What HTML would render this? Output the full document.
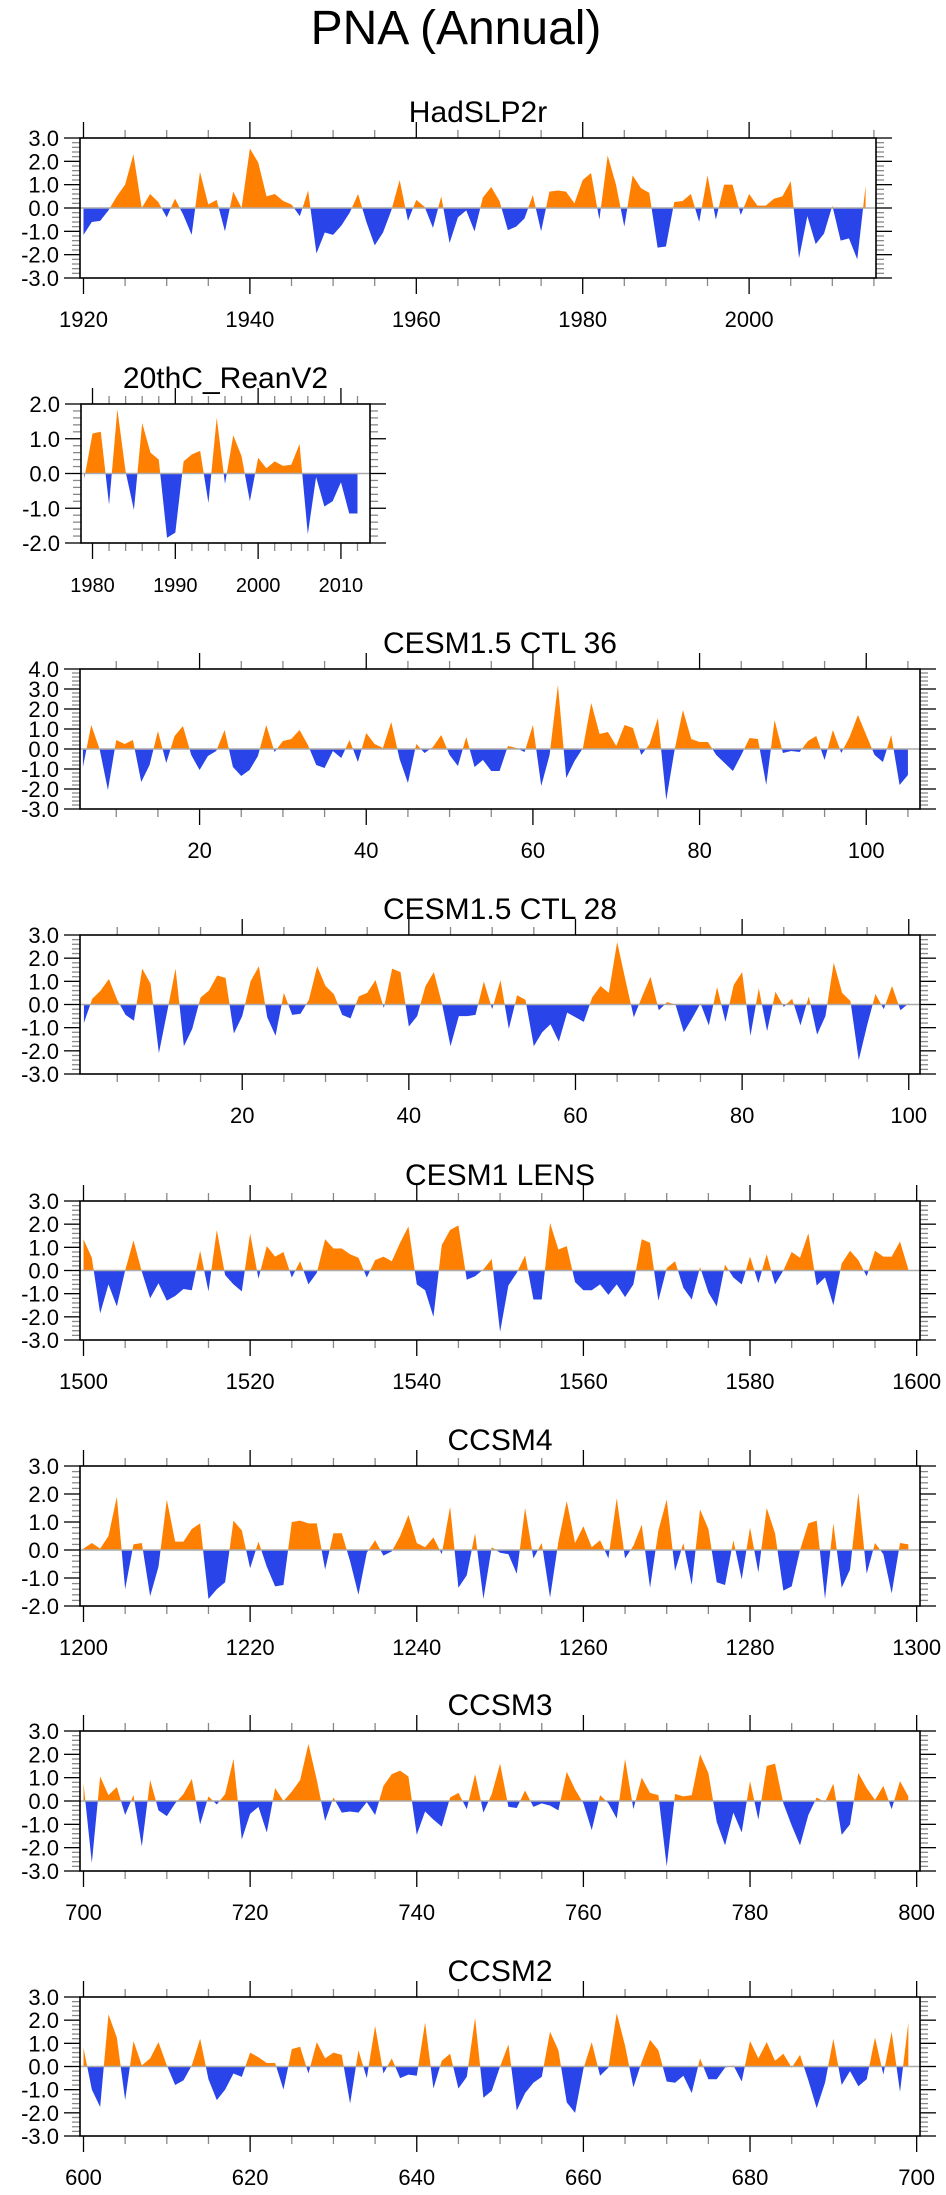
<!DOCTYPE html>
<html><head><meta charset="utf-8">
<style>
html,body{margin:0;padding:0;background:#fff;}
svg{display:block;font-family:"Liberation Sans",Arial,sans-serif;}
</style></head>
<body>
<svg id="fig" width="946" height="2195" viewBox="0 0 946 2195" xmlns="http://www.w3.org/2000/svg">
<text x="456" y="44" font-size="48" text-anchor="middle">PNA (Annual)</text>
</svg>
<script>
// ---- data ----
const hadYears0 = 1920;
const hadValues = [-1.15,-0.6,-0.55,-0.1,0.5,1.0,2.3,0.0,0.6,0.25,-0.4,0.4,-0.3,-1.15,1.55,0.15,0.35,-1.0,0.7,0.0,
2.55,1.95,0.5,0.6,0.3,0.15,-0.35,0.75,-1.95,-1.05,-1.15,-0.75,-0.2,0.6,-0.6,-1.6,-1.05,-0.1,1.2,-0.55,
0.35,0.05,-0.85,0.5,-1.5,-0.4,-0.1,-1.0,0.45,0.9,0.3,-0.95,-0.8,-0.45,0.55,-1.0,0.7,0.75,0.7,0.2,
1.2,1.5,-0.5,2.25,1.0,-0.8,1.4,0.85,0.65,-1.7,-1.65,0.25,0.3,0.6,-0.6,1.4,-0.5,1.0,1.0,-0.3,
0.6,0.1,0.1,0.4,0.5,1.15,-2.15,-0.35,-1.55,-1.1,0.1,-1.4,-1.3,-2.2,0.95];
const reanYears0 = 1979;
const reanValues = [-0.15,1.15,1.2,-0.9,1.85,0.05,-1.05,1.45,0.6,0.4,-1.85,-1.7,0.35,0.55,0.65,-0.85,1.6,-0.3,1.1,0.5,
-0.8,0.45,0.15,0.35,0.22,0.25,0.85,-1.75,-0.1,-0.95,-0.8,-0.25,-1.15,-1.15];
const ctl36Start = 6;
const ctl36Values = [-0.9,1.2,0.0,-2.05,0.45,0.25,0.45,-1.65,-0.8,0.9,-0.7,0.65,1.15,-0.3,-1.05,-0.35,-0.1,0.95,-0.9,-1.35,
-1.05,-0.35,1.2,-0.15,0.4,0.5,0.95,0.2,-0.8,-0.95,-0.1,-0.45,0.45,-0.65,0.8,0.25,0.05,1.35,-0.5,-1.7,
0.25,-0.2,0.1,0.7,-0.3,-0.85,0.6,-0.9,-0.55,-1.1,-1.1,0.15,0.05,-0.15,1.2,-1.85,-0.3,3.2,-1.45,-0.6,
0.05,2.3,0.75,0.85,0.15,1.2,1.05,-0.3,0.25,1.55,-2.55,-0.05,1.95,0.5,0.35,0.35,-0.3,-0.7,-1.1,-0.3,
0.55,0.5,-1.8,1.45,-0.2,-0.1,-0.15,0.4,0.65,-0.55,0.95,-0.2,0.6,1.7,0.7,-0.3,-0.65,0.7,-1.8,-1.3];
const ctl28Start = 1;
const ctl28Values = [-0.8,0.25,0.6,1.1,0.2,-0.45,-0.7,1.55,0.9,-2.1,-0.3,1.55,-1.8,-1.05,0.3,0.6,1.25,1.15,-1.25,-0.5,
1.0,1.65,-0.55,-1.35,0.5,-0.45,-0.4,0.2,1.65,0.8,0.45,-0.45,-0.6,0.35,0.5,1.05,-0.15,1.55,1.4,-0.95,
-0.5,0.8,1.4,0.0,-1.8,-0.5,-0.5,-0.45,1.0,-0.2,1.05,-1.05,0.4,0.2,-1.8,-1.2,-0.85,-1.6,-0.35,-0.55,
-0.75,0.3,0.8,0.5,2.7,1.05,-0.55,0.35,1.2,-0.25,0.1,0.0,-1.2,-0.6,0.05,-0.9,0.75,-0.75,0.85,1.4,
-1.35,0.7,-1.15,0.55,-0.1,0.25,-0.9,0.35,-1.3,-0.5,1.8,0.5,0.15,-2.4,-0.9,0.45,-0.2,0.8,-0.25,0.05];
const lensStart = 1500;
const lensValues = [1.35,0.55,-1.85,-0.6,-1.55,0.0,1.3,-0.05,-1.2,-0.55,-1.3,-1.1,-0.8,-0.85,0.85,-0.9,1.75,-0.2,-0.6,-0.9,
1.6,-0.35,1.05,0.6,0.8,-0.3,0.4,-0.6,-0.1,1.35,0.95,0.95,0.7,0.55,-0.3,0.45,0.6,0.4,1.2,1.9,
-0.6,-0.85,-2.0,1.1,1.75,1.95,-0.4,-0.25,0.05,0.5,-2.65,-0.65,-0.1,0.65,-1.25,-1.25,2.05,0.9,1.05,-0.5,
-0.85,-0.85,-0.6,-1.05,-0.6,-1.15,-0.6,1.35,1.2,-1.3,0.1,0.4,-0.75,-1.25,0.15,-0.95,-1.55,0.25,-0.3,-0.6,
0.6,-0.55,0.7,-0.6,0.0,0.8,0.55,1.6,-0.65,-0.3,-1.5,0.3,0.85,0.45,-0.25,0.85,0.6,0.6,1.25,0.05];
const ccsm4Start = 1200;
const ccsm4Values = [0.05,0.25,0.05,0.5,1.9,-1.4,0.2,0.25,-1.65,-0.6,1.8,0.3,0.3,0.75,0.95,-1.75,-1.4,-1.15,1.05,0.7,
-0.65,0.3,-0.6,-1.3,-1.25,1.0,1.05,0.95,0.95,-0.7,0.6,0.6,-0.4,-1.6,-0.1,0.35,-0.2,-0.05,0.5,1.25,
0.25,0.1,0.45,-0.15,1.55,-1.35,-0.9,0.6,-1.75,0.1,-0.1,-0.15,-0.85,1.5,-0.3,0.25,-1.7,0.3,1.75,0.25,
0.85,0.1,0.35,-0.3,1.85,-0.3,0.15,0.9,-1.35,0.7,1.8,-0.75,0.25,-1.25,1.45,0.75,-1.15,-1.25,0.35,-1.05,
0.8,-0.8,1.5,0.6,-1.45,-1.3,0.0,0.95,1.05,-1.75,0.95,-1.35,-0.7,2.05,-0.85,0.25,-0.15,-1.55,0.25,0.2];
const ccsm3Start = 700;
const ccsm3Values = [0.75,-2.65,1.05,0.25,0.6,-0.6,0.25,-1.95,0.9,-0.4,-0.65,-0.1,0.3,0.95,-1.0,0.2,-0.15,0.3,1.8,-1.65,
-0.55,-0.25,-1.35,0.55,0.0,0.4,0.9,2.45,0.9,-0.85,0.15,-0.5,-0.45,-0.5,-0.05,-0.6,0.65,1.15,1.3,1.05,
-1.45,-0.45,-0.8,-1.1,0.15,0.35,-0.35,1.15,-0.5,0.3,1.6,-0.25,-0.3,0.45,-0.25,-0.1,-0.2,-0.4,1.25,0.5,
-0.1,-1.25,0.25,-0.1,-0.75,1.8,-0.35,1.0,0.35,0.25,-2.8,0.3,0.2,0.25,2.0,1.2,-0.9,-1.9,-0.5,-1.35,
0.85,-0.8,1.5,1.6,-0.1,-1.05,-1.9,-0.6,0.15,-0.05,0.75,-1.45,-1.0,1.2,0.55,0.05,0.65,-0.35,0.85,0.2];
const ccsm2Start = 600;
const ccsm2Values = [0.8,-1.0,-1.75,2.25,1.25,-1.45,1.1,0.05,0.35,1.05,0.05,-0.8,-0.6,0.05,1.2,-0.55,-1.45,-1.0,-0.3,-0.45,
0.6,0.4,0.15,0.15,-1.0,0.75,0.85,-0.3,1.05,0.35,0.6,0.5,-1.6,0.7,-0.5,1.75,-0.3,0.35,-0.5,-0.35,
-0.4,1.9,-0.95,0.25,0.55,-0.95,-0.45,2.1,-1.35,-1.05,0.0,0.95,-1.9,-1.15,-0.7,-0.45,1.5,0.7,-1.55,-2.0,
-0.1,1.05,-0.4,-0.05,2.3,0.9,-0.9,0.2,1.15,0.7,-0.65,-0.7,-0.4,-1.15,0.35,-0.55,-0.55,-0.05,0.05,-0.65,
1.1,0.35,1.05,0.25,0.55,-0.05,0.5,-0.6,-1.8,-0.7,1.2,-0.8,-0.2,-0.85,-0.55,1.25,-0.35,1.5,-1.1,1.9];

// ---- layout ----
const NS = "http://www.w3.org/2000/svg";
const svg = document.getElementById('fig');
function el(tag, attrs, parent){
  const e = document.createElementNS(NS, tag);
  for (const k in attrs) e.setAttribute(k, attrs[k]);
  (parent || svg).appendChild(e);
  return e;
}
const panels = [
  {id:'hadslp2r', title:'HadSLP2r', start:hadYears0, vals:hadValues, L:80, R:876, T:138, B:278, xmin:1919.58, xmax:2015.25, ymin:-3, ymax:3, major:20, minor:5, xl:22, tl:30},
  {id:'20thc-reanv2', title:'20thC_ReanV2', start:reanYears0, vals:reanValues, L:81, R:370, T:404, B:543, xmin:1978.61, xmax:2013.51, ymin:-2, ymax:2, major:10, minor:2, xl:20, tl:30},
  {id:'cesm15-ctl36', title:'CESM1.5 CTL 36', start:ctl36Start, vals:ctl36Values, L:80, R:920, T:669, B:809, xmin:5.65, xmax:106.45, ymin:-3, ymax:4, major:20, minor:5, xl:22, tl:30},
  {id:'cesm15-ctl28', title:'CESM1.5 CTL 28', start:ctl28Start, vals:ctl28Values, L:80, R:920, T:935, B:1074, xmin:0.53, xmax:101.35, ymin:-3, ymax:3, major:20, minor:5, xl:22, tl:30},
  {id:'cesm1-lens', title:'CESM1 LENS', start:lensStart, vals:lensValues, L:80, R:920, T:1201, B:1340, xmin:1499.58, xmax:1600.4, ymin:-3, ymax:3, major:20, minor:5, xl:22, tl:30},
  {id:'ccsm4', title:'CCSM4', start:ccsm4Start, vals:ccsm4Values, L:80, R:920, T:1466, B:1606, xmin:1199.58, xmax:1300.4, ymin:-2, ymax:3, major:20, minor:5, xl:22, tl:30},
  {id:'ccsm3', title:'CCSM3', start:ccsm3Start, vals:ccsm3Values, L:80, R:920, T:1731, B:1871, xmin:699.58, xmax:800.4, ymin:-3, ymax:3, major:20, minor:5, xl:22, tl:30},
  {id:'ccsm2', title:'CCSM2', start:ccsm2Start, vals:ccsm2Values, L:80, R:920, T:1997, B:2136, xmin:599.58, xmax:700.4, ymin:-3, ymax:3, major:20, minor:5, xl:22, tl:30}
];

panels.forEach(function(p){
  const g = el('g', {});
  
  
  const xs = v => p.L + (v - p.xmin) / (p.xmax - p.xmin) * (p.R - p.L);
  const ys = v => p.B - (v - p.ymin) / (p.ymax - p.ymin) * (p.B - p.T);
  const y0 = ys(0);
  const cid = 'c-' + p.id;
  const defs = el('defs', {}, g);
  const cp1 = el('clipPath', {id: cid + '-pos'}, defs);
  el('rect', {x:p.L, y:p.T, width:p.R-p.L, height:y0-p.T}, cp1);
  const cp2 = el('clipPath', {id: cid + '-neg'}, defs);
  el('rect', {x:p.L, y:y0, width:p.R-p.L, height:p.B-y0}, cp2);
  let pts = xs(p.start).toFixed(2) + ',' + y0.toFixed(2);
  p.vals.forEach(function(v, i){ pts += ' ' + xs(p.start + i).toFixed(2) + ',' + ys(v).toFixed(2); });
  pts += ' ' + xs(p.start + p.vals.length - 1).toFixed(2) + ',' + y0.toFixed(2);
  const pos = el('polygon', {points:pts, fill:'#ff8000', 'clip-path':'url(#' + cid + '-pos)'}, g);
  
  
  const neg = el('polygon', {points:pts, fill:'#2944e8', 'clip-path':'url(#' + cid + '-neg)'}, g);
  
  
  const zl = el('line', {x1:p.L, x2:p.R, y1:y0, y2:y0, stroke:'#aaaaaa', 'stroke-width':1.5}, g);
  
  
  // y ticks
  for (let k = Math.round(p.ymin*5); k <= Math.round(p.ymax*5); k++) {
    const v = k/5, y = ys(v), maj = (k % 5 === 0);
    const len = maj ? 16 : 8, col = maj ? '#000' : '#888';
    el('line', {x1:p.L-len, x2:p.L, y1:y, y2:y, stroke:col, 'stroke-width':1.3}, g);
    el('line', {x1:p.R, x2:p.R+len, y1:y, y2:y, stroke:col, 'stroke-width':1.3}, g);
    if (maj) {
      const t = el('text', {x:p.L-21, y:y+8, 'font-size':22, 'text-anchor':'end'}, g);
      t.textContent = v.toFixed(1);
      
      
    }
  }
  // x ticks
  const first = Math.ceil(p.xmin / p.minor) * p.minor;
  for (let v = first; v <= p.xmax; v += p.minor) {
    const x = xs(v), maj = (Math.abs(v % p.major) < 1e-6);
    const len = maj ? 16 : 8, col = maj ? '#000' : '#888';
    el('line', {x1:x, x2:x, y1:p.T-len, y2:p.T, stroke:col, 'stroke-width':1.3}, g);
    el('line', {x1:x, x2:x, y1:p.B, y2:p.B+len, stroke:col, 'stroke-width':1.3}, g);
    if (maj) {
      const t = el('text', {x:x, y:p.B+49, 'font-size':p.xl, 'text-anchor':'middle'}, g);
      t.textContent = String(v);
      
      
    }
  }
  const box = el('rect', {x:p.L, y:p.T, width:p.R-p.L, height:p.B-p.T, fill:'none', stroke:'#000', 'stroke-width':1.6}, g);
  
  
  const tt = el('text', {x:(p.L+p.R)/2, y:p.T-16, 'font-size':p.tl, 'text-anchor':'middle'}, g);
  tt.textContent = p.title;
  
  
});
</script>
</body></html>
